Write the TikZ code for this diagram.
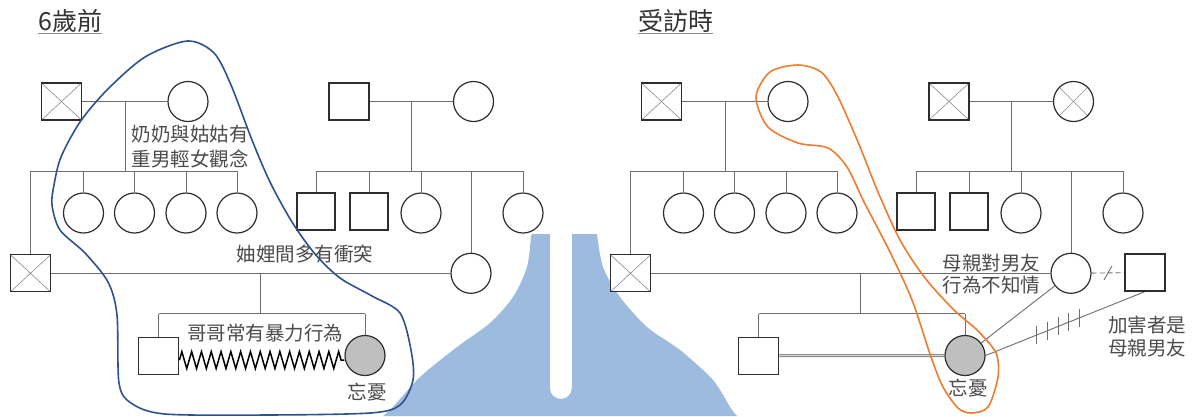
\documentclass[tikz,border=0pt]{standalone}
\usepackage{fontspec}
\newfontfamily\cjk{Noto Sans CJK TC}
\usetikzlibrary{calc,decorations.pathmorphing}
\pgfdeclarelayer{wmark}
\pgfdeclarelayer{bg}
\pgfsetlayers{wmark,bg,main}
\definecolor{wm}{RGB}{157,187,223}
\definecolor{loopblue}{RGB}{47,82,143}
\definecolor{looporange}{RGB}{237,125,49}
\definecolor{shapeline}{RGB}{45,45,45}
\definecolor{relline}{RGB}{110,110,110}
\definecolor{txt}{RGB}{75,75,75}

% one genogram (prefix #1); #2, #3: extra styles of the maternal grandparents
\newcommand\genotree[3]{%
  \node[male,dead] (#1gf) at (61.5,101.5) {};
  \node[female] (#1gm) at (188,101.5) {};
  \node[male,#2] (#1mgf) at (349,101.5) {};
  \node[female,#3] (#1mgm) at (473.5,101.5) {};
  \node[female] (#1a1) at (83.5,213) {};
  \node[female] (#1a2) at (134.5,213) {};
  \node[female] (#1a3) at (186,213) {};
  \node[female] (#1a4) at (237,213) {};
  \node[male,minimum width=38pt] (#1b1) at (316,211.5) {};
  \node[male,minimum width=38pt] (#1b2) at (369,211.5) {};
  \node[female] (#1b3) at (421,213) {};
  \node[female] (#1b5) at (523,213) {};
  \node[male,dead] (#1fa) at (30.5,273.3) {};
  \node[female] (#1mo) at (471,273.3) {};
  \node[male] (#1br) at (158.8,355.6) {};
  \node[patient] (#1pt) at (365,355.5) {};
  \coordinate (#1m1) at (125.7,101.5);
  \coordinate (#1s1) at (125.7,171);
  \coordinate (#1m2) at (411.4,101.5);
  \coordinate (#1s2) at (411.4,171);
  \coordinate (#1m3) at (260.2,273.3);
  \coordinate (#1s3) at (260.2,313.5);
  \begin{pgfonlayer}{bg}
    \draw[rel] (#1gf) -- (#1gm);
    \draw[rel] (#1m1) -- (#1s1);
    \draw[rel] (#1fa.north |- #1s1) -- (#1a4.north |- #1s1);
    \foreach \n in {fa,a1,a2,a3,a4} \draw[rel] (#1\n.north) -- (#1\n.north |- #1s1);
    \draw[rel] (#1mgf) -- (#1mgm);
    \draw[rel] (#1m2) -- (#1s2);
    \draw[rel] (#1b1.north |- #1s2) -- (#1b5.north |- #1s2);
    \foreach \n in {b1,b2,b3,mo,b5} \draw[rel] (#1\n.north) -- (#1\n.north |- #1s2);
    \draw[rel] (#1fa) -- (#1mo);
    \draw[rel] (#1m3) -- (#1s3);
    \draw[rel] (#1br.north |- #1s3) -- (#1pt.north |- #1s3);
    \foreach \n in {br,pt} \draw[rel] (#1\n.north) -- (#1\n.north |- #1s3);
  \end{pgfonlayer}
}

\begin{document}
\begin{tikzpicture}[x=1pt,y=-1pt,
  male/.style={draw=shapeline, fill=white, line width=1.2pt, rectangle,
    minimum width=40pt, minimum height=37pt, inner sep=0pt},
  female/.style={draw=shapeline, fill=white, line width=1.2pt, circle,
    minimum size=40pt, inner sep=0pt},
  patient/.style={female, fill=black!25},
  dead/.style={path picture={\draw[black!45, line width=0.6pt]
    (path picture bounding box.south west) -- (path picture bounding box.north east)
    (path picture bounding box.north west) -- (path picture bounding box.south east);}},
  rel/.style={draw=relline, line width=0.9pt},
  lbl/.style={font=\cjk\fontsize{19.5}{25}\selectfont, text=txt, inner sep=0pt},
  ttl/.style={font=\cjk\fontsize{25}{30}\selectfont, text=black!80, inner sep=0pt},
  uline/.style={draw=black!45, line width=1.5pt},
  blueloop/.style={draw=loopblue, line width=1.6pt},
  orangeloop/.style={draw=looporange, line width=1.6pt}
]
\useasboundingbox (0,0) rectangle (1197,416);

% watermark
\begin{pgfonlayer}{wmark}
  \fill[white] (0,0) rectangle (1197,416);
  \fill[wm] (383,416) -- plot[smooth] coordinates {(383,416) (393,407) (420,377) (457,347) (490,323) (513,297) (527,267) (531,236)}
    -- (532,234) -- (597,234)
    -- plot[smooth] coordinates {(597,234) (603,267) (620,297) (647,327) (680,350) (713,380) (730,407) (737,416)} -- cycle;
  \fill[white] (550,226) rectangle (571.7,388);
  \fill[white] (560.85,388) circle[radius=10.85pt];
\end{pgfonlayer}

% titles
\node[ttl, anchor=base west] (t1) at (38,30) {6歲前};
\draw[uline] ($(t1.base west)+(0,3.5)$) -- ($(t1.base east)+(0,3.5)$);
\node[ttl, anchor=base west] (t2) at (638,30) {受訪時};
\draw[uline] ($(t2.base west)+(0,3.5)$) -- ($(t2.base east)+(0,3.5)$);

% two genograms
\genotree{L}{}{}
\begin{scope}[xshift=600pt]
  \genotree{R}{dead}{dead}
\end{scope}

% left: violent brother
\draw[decorate, decoration={zigzag, amplitude=8.5pt, segment length=9.8pt}, line width=1.5pt]
  ([yshift=-4.5pt]Lbr.east) -- ([yshift=-4.5pt]Lpt.west);

% right: brother - patient double line
\begin{pgfonlayer}{bg}
  \draw[draw=black!50, double=black!15, double distance=1.2pt, line width=0.9pt] (Rbr) -- (Rpt);
\end{pgfonlayer}

% right: mother's boyfriend
\node[male] (bf) at (1145,272.5) {};
\begin{pgfonlayer}{bg}
  \draw[rel, dash pattern=on 5pt off 3pt] (Rmo) -- (bf);
  \draw[rel] (Rmo) -- (Rpt);
  \draw[rel] (Rpt.east) -- (bf.south);
\end{pgfonlayer}
\coordinate (sl) at ($(Rmo.east)!0.5!(bf.west)$);
\draw[rel] ($(sl)+(-4,7)$) -- ($(sl)+(4,-7)$);
\path (Rpt.east) -- (bf.south)
  coordinate[pos=0.32] (h1) coordinate[pos=0.39] (h2) coordinate[pos=0.455] (h3)
  coordinate[pos=0.52] (h4) coordinate[pos=0.59] (h5);
\foreach \h in {h1,h2,h3,h4,h5} \draw[rel] ($(\h)+(0,-9)$) -- ($(\h)+(0,9)$);

% labels
\node[lbl, align=left] (l1) at (190.2,146.5) {奶奶與姑姑有\\重男輕女觀念};
\node[lbl] (l2) at (305,254) {妯娌間多有衝突};
\node[lbl] (l3) at (265,333) {哥哥常有暴力行為};
\node[lbl] (l4) at (367,392) {忘憂};
\node[lbl, align=center, font=\cjk\fontsize{19.5}{21.5}\selectfont] (r1) at (991.5,274) {母親對男友\\行為不知情};
\node[lbl, align=left, font=\cjk\fontsize{19.5}{23}\selectfont] (r2) at (1147,336.5) {加害者是\\母親男友};
\node[lbl] (r3) at (968,388) {忘憂};

% highlight loops
\draw[blueloop] plot[smooth cycle] coordinates {
  (187.5,41) (214,53) (231,85) (252,140) (270,182) (292,222) (315,254) (340,278)
  (372,296) (400,313) (411,350) (413,380) (400,405) (370,413) (268,415) (165,414)
  (131,403) (119,383) (117,315) (108,282) (85,253) (60,230) (52,205) (54,185)
  (61,157) (80,122) (107,90) (145,57)};
\draw[orangeloop] plot[smooth cycle] coordinates {
  (798,65) (821,72) (837,95) (858,142) (878,192) (900,240) (925,278) (954,310)
  (978,331) (996,353) (998,377) (988,407) (971,413) (958,408) (943,387) (931,357)
  (912,300) (889,250) (864,202) (847,167) (828,148) (798,143) (768,127) (756,97)
  (770,72)};
\end{tikzpicture}
\end{document}
